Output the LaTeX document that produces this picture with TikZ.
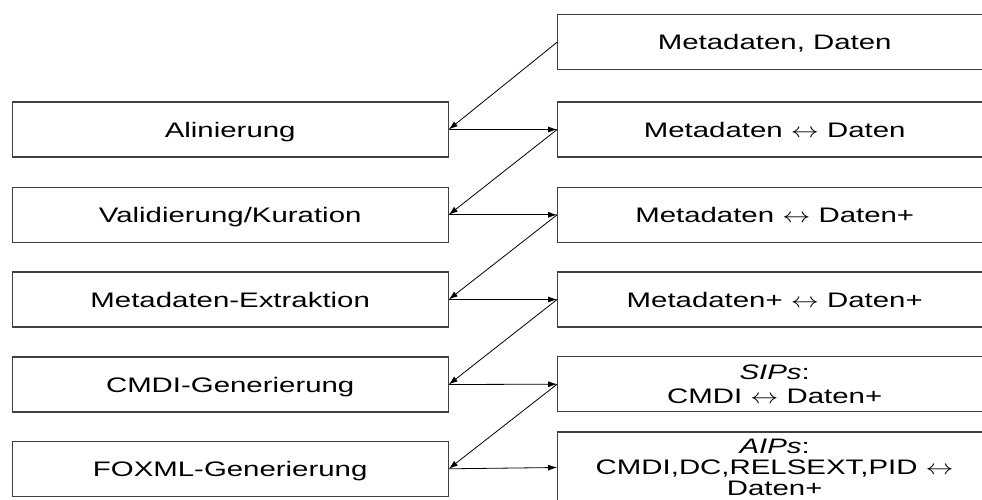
\documentclass[tikz,border=0pt]{standalone}
\usepackage{fontspec}
\setmainfont{Liberation Sans}[FakeStretch=1.4]
\usetikzlibrary{arrows.meta}
\newcommand{\lrarr}{\scalebox{1.35}[1]{$\leftrightarrow$}}
\tikzset{
  stagebox/.style={draw=black!75, line width=1.2pt, minimum width=436pt,
    minimum height=55pt, inner sep=0pt, align=center,
    font=\fontsize{21}{24}\selectfont},
  oneline/.style={text height=15pt, text depth=-1.5pt},
  databox/.style={stagebox, minimum width=434pt},
  flow/.style={draw=black, line width=0.8pt, -{Latex[length=9pt,width=6pt]}}
}
\begin{document}
\begin{tikzpicture}[x=1pt,y=-1pt]
  \useasboundingbox (0,0) rectangle (982,500);
  \clip (0,0) rectangle (982,500);
  % processing steps (left column)
  \node[stagebox, oneline] (l1) at (230.2,129.5) {Alinierung};
  \node[stagebox, oneline] (l2) at (230.2,214.8) {Validierung/Kuration};
  \node[stagebox, oneline] (l3) at (230.2,299.5) {Metadaten-Extraktion};
  \node[stagebox, oneline] (l4) at (230.2,384.5) {CMDI-Generierung};
  \node[stagebox, oneline] (l5) at (230.2,468.8) {FOXML-Generierung};
  % data states (right column)
  \node[databox, oneline] (r0) at (774.7,42.2) {Metadaten, Daten};
  \node[databox, oneline] (r1) at (774.7,129.5) {Metadaten \lrarr{} Daten};
  \node[databox, oneline] (r2) at (774.7,214.8) {Metadaten \lrarr{} Daten+};
  \node[databox, oneline] (r3) at (774.7,299.5) {Metadaten+ \lrarr{} Daten+};
  \node[databox] (r4) at (774.7,384.2) {\textit{SIPs}:\\CMDI \lrarr{} Daten+};
  \node[databox, minimum height=71pt, font=\fontsize{21}{21}\selectfont]
    (r5) at (774.7,467.5) {\textit{AIPs}:\\CMDI,DC,RELSEXT,PID \lrarr\\Daten+};
  % data flows
  \foreach \i [evaluate=\i as \j using int(\i-1)] in {1,...,5} {
    \draw[flow] (r\j.west) -- (l\i.east);
    \draw[flow] (l\i.east) -- (r\i.west);
  }
\end{tikzpicture}
\end{document}
